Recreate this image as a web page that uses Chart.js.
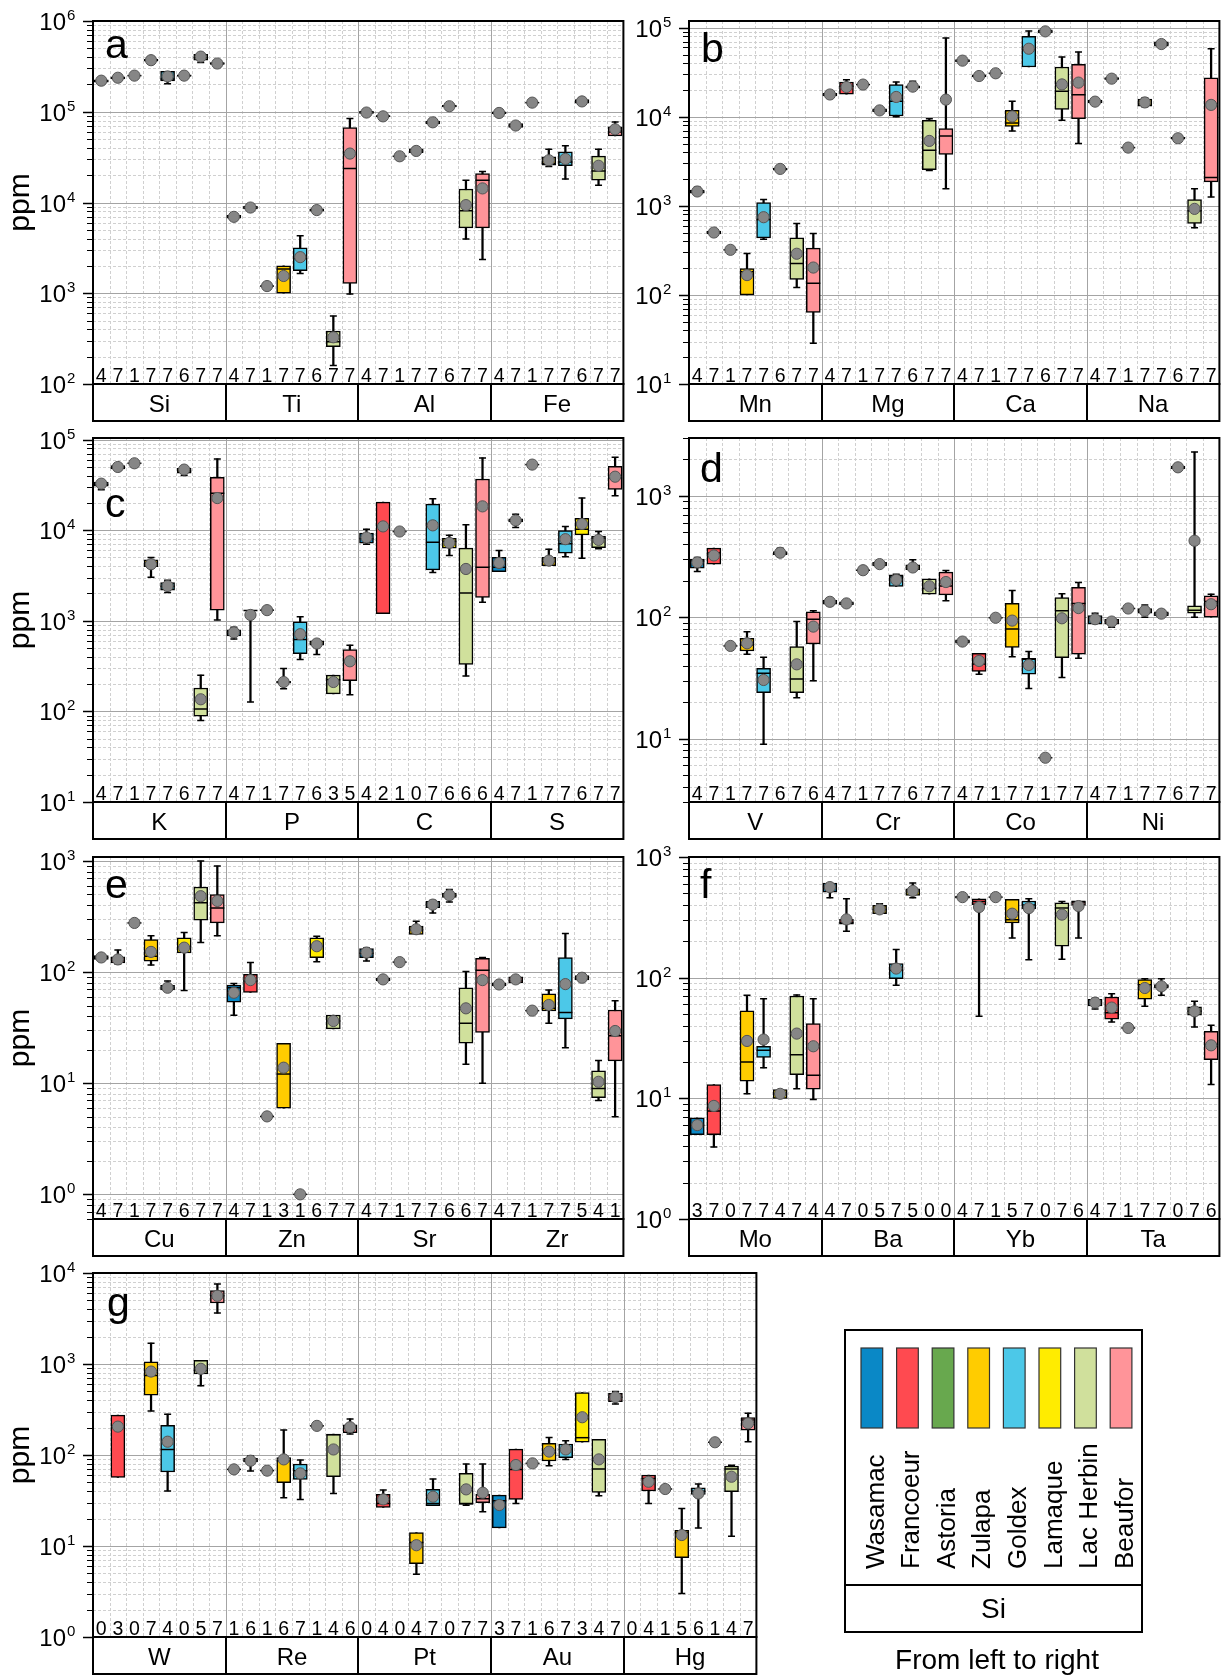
<!DOCTYPE html>
<html>
<head>
<meta charset="utf-8">
<script src="https://cdn.jsdelivr.net/npm/chart.js@4.4.0/dist/chart.umd.min.js"></script>
<style>
  html, body { margin: 0; padding: 0; background: #fff; }
  #page { position: relative; width: 1221px; height: 1675px; overflow: hidden; background: #fff; }
  #page canvas { position: absolute; }
</style>
</head>
<body>
<div id="page"></div>
<script>
// Deposits, in the order they appear inside every element group
const deposits = ['Wasamac', 'Francoeur', 'Astoria', 'Zulapa', 'Goldex', 'Lamaque', 'Lac Herbin', 'Beaufor'];
const depositColors = ['#0a88c6', '#ff4a50', '#68a84e', '#ffcc00', '#4cc8e8', '#ffec00', '#d0e09c', '#ff9499'];

// Per element: one entry per deposit, [whisker low, Q1, median, Q3, whisker high, mean] in ppm.
// A plain number is a single analysis; null means no data.
const Si = [[2.05e5,2.12e5,2.18e5,2.25e5,2.3e5,2.2e5],[2.25e5,2.3e5,2.36e5,2.42e5,2.48e5,2.37e5],2.5e5,[3.55e5,3.62e5,3.7e5,3.78e5,3.85e5,3.7e5],[2.04e5,2.18e5,2.3e5,2.79e5,2.79e5,2.45e5],[2.42e5,2.46e5,2.5e5,2.55e5,2.6e5,2.5e5],[3.5e5,3.7e5,3.95e5,4.3e5,4.3e5,4.05e5],[3.25e5,3.32e5,3.4e5,3.48e5,3.55e5,3.4e5]];
const Ti = [[6600,6700,6950,7200,7300,6950],[8400,8500,8800,9100,9300,8800],1200,[1000,1000,1850,2000,2000,1550],[1650,1770,2420,3170,4300,2500],[7900,8000,8250,8500,8600,8250],[160,258,292,383,561,327],[980,1280,23700,67000,84000,34600]];
const Al = [[95000,96000,98000,101000,103000,98000],[86000,87500,89000,90500,92000,89000],32300,[34500,35500,37000,39000,40500,37000],[72000,73500,76500,79000,81000,76500],[111000,113000,115000,118000,120000,115000],[3950,5260,8090,14100,17600,9360],[2360,5260,17600,20800,22000,14300]];
const Fe = [[93000,95000,97000,100000,104000,97000],[66000,67000,70500,74000,75000,70500],126000,[25000,25800,26900,31800,38700,29200],[18100,25400,28000,36100,42100,30200],[120000,124000,130000,136000,142000,130000],[15500,17600,22300,32400,38700,25400],[54200,54200,60000,68000,77300,64100]];

const Mn = [[1350,1390,1435,1500,1620,1450],[475,485,502,520,535,502],321,[100,100,182,198,292,167],[423,437,703,1090,1180,746],[2480,2520,2580,2650,2750,2600],[121,149,225,437,634,290],[28.6,63.7,135,335,490,203]];
const Mg = [[17000,17200,17700,18300,18600,17800],[17900,17900,22000,24600,26000,21600],23000,[11300,11400,11800,12300,12500,11800],[10000,10200,14900,23000,24600,16700],[20500,21000,21600,22300,25000,21800],[2500,2550,4200,9150,9500,5360],[1560,3770,6100,7360,76600,15600]];
const Ca = [[41000,41500,42700,44000,45000,42700],[27500,28000,28700,29500,30000,28700],30800,[6930,7810,8530,11800,14900,10100],[36200,36200,57100,80000,91800,58100],[86000,87500,91000,94500,97000,91000],[9150,12100,19300,36200,46900,23100],[5000,9530,17700,38800,53300,24200]];
const Na = [[14100,14300,14800,15400,15600,14800],[25800,26200,26800,27500,28000,26800],4510,[13000,13200,13500,15800,16300,14500],[60000,62000,65600,69500,72000,65600],[5500,5600,5750,5900,6000,5740],[567,634,880,1180,1560,925],[1260,1860,2080,27300,58100,13600]];

const K = [[28000,30500,32000,34000,35000,32600],[46500,47500,49000,51500,52500,49800],54700,[3020,3960,4400,4700,5000,4210],[2050,2180,2400,2640,2800,2420],[40000,42500,45000,48000,51000,46600],[79.5,88.7,106,181,251,136],[1020,1310,25500,38300,61100,22600]];
const P = [[630,682,740,794,850,743],[127,1300,1300,1300,1300,1160],1310,[178,205,210,215,297,211],[373,434,620,975,1107,711],[424,538,561,601,601,561],[156,156,224,251,251,211],[153,218,357,482,538,357]];
const C = [[7000,7180,8100,9270,10250,8300],[1200,1200,11000,20400,20400,11000],9660,null,[3400,3640,7370,19400,22200,11300],[5250,6330,7500,8150,8800,7250],[246,329,2020,6330,11500,3730],[1600,1810,3890,36700,62700,18300]];
const S = [[3480,3480,3890,5020,5950,4350],[10700,12300,12800,13300,15000,12800],52900,[4060,4060,4500,5020,6170,4610],[5100,5560,7060,9920,11000,7950],[4900,8870,10260,13500,22600,11700],[6250,6420,8150,8590,9660,7810],[24000,28200,37700,50700,63700,38900]];

const V = [[238,254,290,301,310,283],[274,274,338,371,371,323],58,[49.5,52.7,59,67,76,61],[8.96,23.9,34.5,37.9,46.8,30.4],[320,328,337,348,370,340],[21.7,23.9,31,57.3,92,40.9],[29.9,60.3,96.3,111,113,83.7]];
const Cr = [[125,128,134,138,141,134],[125,127,130,134,136,130],244,[262,265,274,283,290,274],[179,179,215,224,226,203],[245,246,257,270,297,257],[155,155,173,207,207,180],[137,153,181,235,243,195]];
const Co = [[60,61,63,65,66,63],[33.9,35.7,41.2,50.4,50.4,43.6],99,[47.3,56.5,80.1,130,166,93.8],[25.9,33.9,45,45.9,52.1,40.4],6.95,[31.8,46.4,113,145,156,98],[45.9,49.5,130,176,193,119]];
const Ni = [[87.5,87.5,96,103,108,96.3],[82.7,87.5,92,96,96,92.1],118,[100,108,112,118,126,113],[102,103,107,111,115,107],[1650,1680,1720,1760,1790,1720],[100,108,114,124,2300,427],[100,100,135,150,155,128]];

const Cu = [[128,130,135,141,143,135.5],[118,121,127,137,158,130],277,[115.6,125.6,139,196,212,152],[68,69,72,76,83,72.3],[68.4,149,168,203,227,166],[185,293,420,583,1000,482],[212,277,378,499,902,437]];
const Zn = [[40.8,53.5,72.3,76.4,79,65.2],[65.6,65.6,83,95.3,122,84.7],5.03,[5.96,5.96,12.1,22.9,22.9,13.8],1.0,[124,135,171,203,210,171],[30.8,30.8,36.3,41.1,41.1,36.3],null];
const Sr = [[126,135,148,163,165,150],[82,83.5,86,88.5,90,86],123,[218,218,240,259,287,243],[341,381,405,434,440,405],[428,470,492,515,553,492],[14.8,22.9,34.6,72.3,101,47.2],[10,28.7,104,133,135,84.7]];
const Zr = [[74,75,77.4,80,81,77.4],[80,80,84,90.8,91.5,86],45,[34.6,44.7,47.2,63.8,68.9,50.6],[20.9,37.9,43.2,135,222,78],[84,85,88,93,97,89],[6.98,7.43,8.95,12.9,16,10.3],[5.0,15.9,26.8,45.6,55.3,29.5]];

const Mo = [[5.01,5.01,5.98,6.89,6.89,6.0],[3.96,5.01,7.87,13.0,13.0,8.65],null,[10.9,13.9,20.0,53,71.4,29.9],[17.9,21.8,25,27,67,30.7],[10,10,10.9,11.8,11.8,10.9],[12,15.7,23,70.5,72,34.4],[9.8,11.9,15.5,41.6,67,27]];
const Ba = [[459,512,563,608,608,563],[242,277,285,304,451,304],null,[339,339,368,397,410,368],[86.4,98,115,131,171,119],[459,481,523,546,608,523],null,null];
const Yb = [[450,455,465,475,480,465],[47.9,402,428,451,451,385],465,[213,284,302,446,446,339],[141,372,400,432,451,377],null,[142,182,377,418,428,333],[213,397,428,428,428,392]];
const Ta = [[55,58.2,62,66.2,67.5,62.1],[43,45.2,51.3,69.2,73.7,56.5],38.3,[57.9,66.2,87.5,96.3,98,82.1],[71.4,82,84.8,87.5,98,84.8],null,[39.1,48.8,52.6,57.2,63.7,52.6],[13,20.9,27.9,35.9,40.3,27.5]];

const W = [null,[56.7,56.7,200,274,274,205],null,[305,454,746,1058,1693,826],[40.2,65,115,212,281,140],null,[575,780,847,1094,1094,885],[3630,4680,5620,6400,7570,5620]];
const Re = [69.5,[66.7,84,86.6,92,97.5,86.6],67.3,[33.9,49.5,86.7,93.5,188,89.5],[32.5,54,67,79.6,88,62.8],209,[37.8,57.7,167,170,170,115],[170,176,198,214,249,202]];
const Pt = [null,[26.5,26.5,29.4,36.9,41.2,32.5],null,[4.9,6.41,10.9,14.0,14.0,10.2],[27.7,27.7,29.4,41.9,54.5,34.8],null,[28,28.6,29.4,62.8,79.6,41.9],[23.8,29.9,33,36.9,79.6,38.5]];
const Au = [[15.8,15.8,31.4,36.3,36.3,28.2],[29.4,32.5,69.5,116,116,77.6],80.9,[76.4,86,106,134,156,109],[89.5,93.5,115,132,143,115],[138,138,155,485,485,260],[35.6,38.8,70.2,149,149,89.5],[364,386,432,477,498,432]];
const Hg = [null,[29.4,40.2,55.3,60.3,60.3,50.8],42.3,[3.0,7.45,14,14.9,25.9,13.2],[15.8,36.9,40,43.6,47.9,37.8],138,[12.8,39.5,70.2,75.7,77,57.7],[140,188,243,258,288,223]];

// Number of samples printed under each box
const countsA = [4,7,1,7,7,6,7,7, 4,7,1,7,7,6,7,7, 4,7,1,7,7,6,7,7, 4,7,1,7,7,6,7,7];
const countsB = [4,7,1,7,7,6,7,7, 4,7,1,7,7,6,7,7, 4,7,1,7,7,6,7,7, 4,7,1,7,7,6,7,7];
const countsC = [4,7,1,7,7,6,7,7, 4,7,1,7,7,6,3,5, 4,2,1,0,7,6,6,6, 4,7,1,7,7,6,7,7];
const countsD = [4,7,1,7,7,6,7,6, 4,7,1,7,7,6,7,7, 4,7,1,7,7,1,7,7, 4,7,1,7,7,6,7,7];
const countsE = [4,7,1,7,7,6,7,7, 4,7,1,3,1,6,7,7, 4,7,1,7,7,6,6,7, 4,7,1,7,7,5,4,1];
const countsF = [3,7,0,7,7,4,7,4, 4,7,0,5,7,5,0,0, 4,7,1,5,7,0,7,6, 4,7,1,7,7,0,7,6];
const countsG = [0,3,0,7,4,0,5,7, 1,6,1,6,7,1,4,6, 0,4,0,4,7,0,7,7, 3,7,1,6,7,3,4,7, 0,4,1,5,6,1,4,7];

const elementStats = { Si, Ti, Al, Fe, Mn, Mg, Ca, Na, K, P, C, S, V, Cr, Co, Ni, Cu, Zn, Sr, Zr, Mo, Ba, Yb, Ta, W, Re, Pt, Au, Hg };

// Panel layout (page pixels) and y-axis ranges
const panels = [
  { letter: 'a', elements: ['Si','Ti','Al','Fe'], counts: countsA, min: 100, max: 1e6,    left: 93,  top: 21,   right: 626,  bottom: 384,  letterAt: [105, 58],   ppm: true },
  { letter: 'b', elements: ['Mn','Mg','Ca','Na'], counts: countsB, min: 10,  max: 1.19e5, left: 689, top: 21,   right: 1222, bottom: 384,  letterAt: [701, 62],   ppm: false },
  { letter: 'c', elements: ['K','P','C','S'],     counts: countsC, min: 10,  max: 1.04e5, left: 93,  top: 438,  right: 626,  bottom: 802,  letterAt: [105, 517],  ppm: true },
  { letter: 'd', elements: ['V','Cr','Co','Ni'],  counts: countsD, min: 3,   max: 3000,   left: 689, top: 438,  right: 1222, bottom: 802,  letterAt: [700, 482],  ppm: false },
  { letter: 'e', elements: ['Cu','Zn','Sr','Zr'], counts: countsE, min: 0.6, max: 1086,   left: 93,  top: 857,  right: 626,  bottom: 1219, letterAt: [105, 898],  ppm: true },
  { letter: 'f', elements: ['Mo','Ba','Yb','Ta'], counts: countsF, min: 1,   max: 1000,   left: 689, top: 857,  right: 1222, bottom: 1219, letterAt: [700, 898],  ppm: false },
  { letter: 'g', elements: ['W','Re','Pt','Au','Hg'], counts: countsG, min: 1, max: 1e4, left: 93,  top: 1273, right: 759,  bottom: 1637, letterAt: [107, 1316], ppm: true }
];

const FONT = '"Liberation Sans", Arial, sans-serif';
const STRIP = 37;
const BOX_W = 14;
const page = document.getElementById('page');

function expand(entry) {
  if (entry === null || entry === undefined) return null;
  if (typeof entry === 'number') return [entry, entry, entry, entry, entry, entry];
  return entry;
}

function eachTick(p, fn) {
  const d0 = Math.floor(Math.log10(p.min)), d1 = Math.ceil(Math.log10(p.max));
  for (let d = d0; d <= d1; d++) {
    for (let m = 1; m <= 9; m++) {
      const v = m * Math.pow(10, d);
      if (v < p.min * 0.999 || v > p.max * 1.001) continue;
      fn(v, m === 1, d);
    }
  }
}

function panelPlugin(p, rows, x0, y0) {
  return {
    id: 'panelFrame',
    beforeDatasetsDraw(chart) {
      const { ctx, chartArea: a, scales: { y } } = chart;
      const n = rows.length, slot = (a.right - a.left) / n;
      ctx.save();
      // light dashed minor grid
      ctx.lineWidth = 1;
      ctx.strokeStyle = '#d0d0d0';
      ctx.setLineDash([3, 2]);
      ctx.beginPath();
      eachTick(p, (v, major) => {
        if (major) return;
        const py = Math.round(y.getPixelForValue(v)) + 0.5;
        ctx.moveTo(a.left, py); ctx.lineTo(a.right, py);
      });
      for (let k = 1; k < n; k++) {
        if (k % 8 === 0) continue;
        const px = Math.round(a.left + k * slot) + 0.5;
        ctx.moveTo(px, a.top); ctx.lineTo(px, a.bottom);
      }
      ctx.stroke();
      // solid decade lines and element separators
      ctx.setLineDash([]);
      ctx.strokeStyle = '#a4a4a4';
      ctx.beginPath();
      eachTick(p, (v, major) => {
        if (!major) return;
        const py = Math.round(y.getPixelForValue(v)) + 0.5;
        ctx.moveTo(a.left, py); ctx.lineTo(a.right, py);
      });
      for (let g = 1; g < n / 8; g++) {
        const px = Math.round(a.left + g * 8 * slot) + 0.5;
        ctx.moveTo(px, a.top); ctx.lineTo(px, a.bottom);
      }
      ctx.stroke();
      ctx.restore();
    },
    afterDatasetDraw(chart, args) {
      if (args.index !== 1) return;
      const { ctx, scales: { x, y } } = chart;
      ctx.save();
      ctx.strokeStyle = '#000';
      ctx.lineWidth = 1.5;
      rows.forEach((s, i) => {
        if (!s) return;
        const cx = x.getPixelForValue(i);
        ctx.beginPath();
        const ym = y.getPixelForValue(s[2]);
        ctx.moveTo(cx - BOX_W / 2, ym); ctx.lineTo(cx + BOX_W / 2, ym);
        if (s[4] > s[3]) {
          const yh = y.getPixelForValue(s[4]);
          ctx.moveTo(cx - 3.5, yh); ctx.lineTo(cx + 3.5, yh);
        }
        if (s[0] < s[1]) {
          const yl = y.getPixelForValue(s[0]);
          ctx.moveTo(cx - 3.5, yl); ctx.lineTo(cx + 3.5, yl);
        }
        ctx.stroke();
      });
      ctx.restore();
    },
    afterDraw(chart) {
      const { ctx, chartArea: a, scales: { x, y } } = chart;
      const n = rows.length, slot = (a.right - a.left) / n;
      ctx.save();
      ctx.fillStyle = '#000';
      ctx.strokeStyle = '#000';

      // y ticks and labels
      eachTick(p, (v, major, d) => {
        const py = Math.round(y.getPixelForValue(v)) + 0.5;
        ctx.lineWidth = major ? 1.5 : 1;
        ctx.beginPath();
        ctx.moveTo(a.left - (major ? 10 : 6), py); ctx.lineTo(a.left, py);
        ctx.stroke();
        if (major) {
          ctx.font = '24px ' + FONT;
          ctx.textAlign = 'right';
          ctx.textBaseline = 'alphabetic';
          ctx.fillText('10', a.left - 27, py + 8.6);
          ctx.font = '15px ' + FONT;
          ctx.textAlign = 'left';
          ctx.fillText(String(d), a.left - 26, py - 2);
        }
      });

      // frame and element strip
      ctx.lineWidth = 2;
      ctx.strokeRect(a.left, a.top, a.right - a.left, a.bottom - a.top);
      ctx.strokeRect(a.left, a.bottom, a.right - a.left, STRIP);
      ctx.beginPath();
      for (let g = 1; g < n / 8; g++) {
        const px = Math.round(a.left + g * 8 * slot);
        ctx.moveTo(px, a.bottom); ctx.lineTo(px, a.bottom + STRIP);
      }
      ctx.stroke();

      // sample counts
      ctx.font = '19.5px ' + FONT;
      ctx.textAlign = 'center';
      ctx.textBaseline = 'alphabetic';
      p.counts.forEach((c, i) => ctx.fillText(String(c), x.getPixelForValue(i), a.bottom - 2.5));

      // element names
      ctx.font = '24px ' + FONT;
      p.elements.forEach((el, g) => {
        ctx.fillText(el, a.left + (g * 8 + 4) * slot, a.bottom + 27.5);
      });

      // panel letter
      ctx.font = '41px ' + FONT;
      ctx.textAlign = 'left';
      ctx.fillText(p.letter, p.letterAt[0] - x0, p.letterAt[1] - y0);

      // axis title
      if (p.ppm) {
        ctx.translate(29 - x0, (a.top + a.bottom) / 2);
        ctx.rotate(-Math.PI / 2);
        ctx.font = '30px ' + FONT;
        ctx.textAlign = 'center';
        ctx.fillText('ppm', 0, 0);
      }
      ctx.restore();
    }
  };
}

function makePanel(p) {
  const x0 = p.left - 93, y0 = p.top - 25;
  const cw = p.right + 4 - x0, ch = p.bottom + STRIP + 4 - y0;
  const cv = document.createElement('canvas');
  cv.width = cw; cv.height = ch;
  cv.style.left = x0 + 'px'; cv.style.top = y0 + 'px';
  cv.style.width = cw + 'px'; cv.style.height = ch + 'px';
  page.appendChild(cv);

  const labels = [], rows = [], ranges = [], boxes = [], means = [];
  p.elements.forEach(el => {
    elementStats[el].forEach((entry, i) => {
      const s = expand(entry);
      labels.push(el + ' ' + deposits[i]);
      rows.push(s);
      ranges.push(s ? [s[0], s[4]] : null);
      boxes.push(s ? [s[1], s[3]] : null);
      means.push(s ? s[5] : null);
    });
  });

  new Chart(cv, {
    type: 'bar',
    data: {
      labels,
      datasets: [
        { label: 'range', data: ranges, backgroundColor: '#000', borderWidth: 0,
          barThickness: 1.6, grouped: false, order: 3 },
        { label: 'interquartile', data: boxes,
          backgroundColor: labels.map((_, i) => depositColors[i % 8]),
          borderColor: '#000', borderWidth: 1.5, borderSkipped: false,
          barThickness: BOX_W, grouped: false, order: 2 },
        { type: 'line', label: 'mean', data: means, showLine: false,
          pointRadius: 5.6, pointBackgroundColor: '#868686',
          pointBorderColor: '#555', pointBorderWidth: 1, order: 1 }
      ]
    },
    options: {
      responsive: false,
      animation: false,
      devicePixelRatio: 1,
      events: [],
      layout: { padding: { left: p.left - x0, top: 25, right: 4, bottom: ch - (p.bottom - y0) } },
      plugins: { legend: { display: false }, tooltip: { enabled: false } },
      scales: {
        x: { type: 'category', offset: true, display: false, grid: { display: false } },
        y: { type: 'logarithmic', min: p.min, max: p.max, display: false }
      }
    },
    plugins: [panelPlugin(p, rows, x0, y0)]
  });
}

panels.forEach(makePanel);

// Colour key
(function drawKey() {
  const ox = 830, oy = 1320;
  const cv = document.createElement('canvas');
  cv.width = 391; cv.height = 355;
  cv.style.left = ox + 'px'; cv.style.top = oy + 'px';
  cv.style.width = '391px'; cv.style.height = '355px';
  page.appendChild(cv);
  const ctx = cv.getContext('2d');
  ctx.strokeStyle = '#000';
  ctx.fillStyle = '#000';
  ctx.lineWidth = 2;
  ctx.strokeRect(845 - ox, 1330 - oy, 297, 302);
  ctx.beginPath();
  ctx.moveTo(845 - ox, 1585 - oy); ctx.lineTo(1142 - ox, 1585 - oy);
  ctx.stroke();
  deposits.forEach((name, i) => {
    const sx = 861 + i * 35.6 - ox;
    ctx.fillStyle = depositColors[i];
    ctx.fillRect(sx, 1348 - oy, 21.7, 80);
    ctx.lineWidth = 1.2;
    ctx.strokeStyle = '#333';
    ctx.strokeRect(sx, 1348 - oy, 21.7, 80);
    ctx.save();
    ctx.translate(sx + 22.6, 1569 - oy);
    ctx.rotate(-Math.PI / 2);
    ctx.fillStyle = '#000';
    ctx.font = '26px ' + FONT;
    ctx.textAlign = 'left';
    ctx.textBaseline = 'alphabetic';
    ctx.fillText(name, 0, 0);
    ctx.restore();
  });
  ctx.fillStyle = '#000';
  ctx.font = '28px ' + FONT;
  ctx.textAlign = 'center';
  ctx.textBaseline = 'alphabetic';
  ctx.fillText('Si', 993.5 - ox, 1618 - oy);
  ctx.fillText('From left to right', 997 - ox, 1669 - oy);
})();
</script>
</body>
</html>
